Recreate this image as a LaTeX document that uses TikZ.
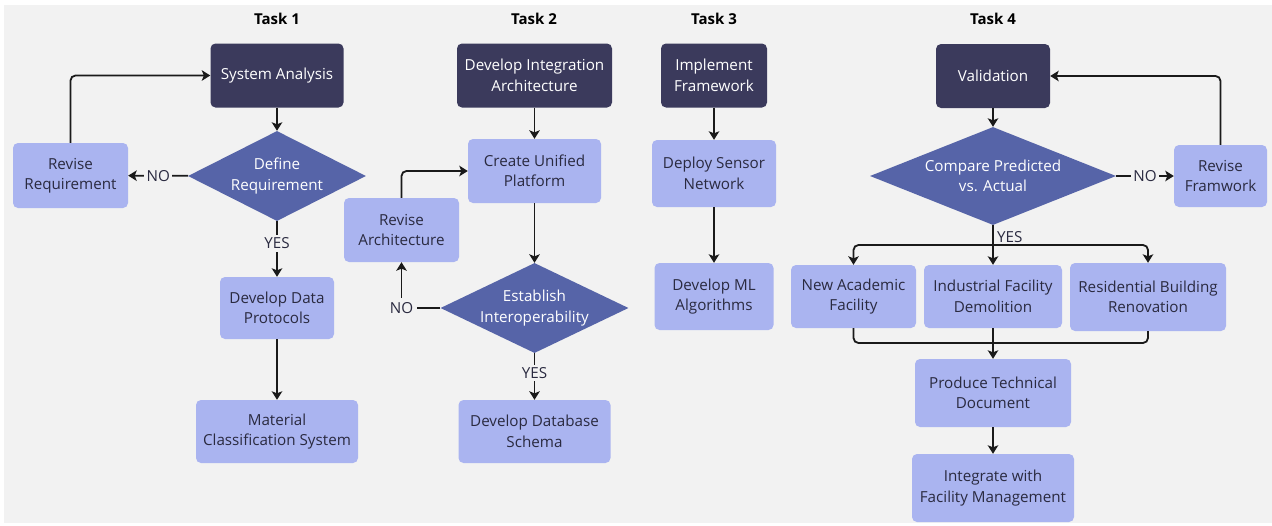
\documentclass[tikz,border=0pt]{standalone}
\usepackage{fontspec}
\setmainfont{Open Sans}
\usetikzlibrary{shapes.geometric,arrows.meta}
\definecolor{bgc}{HTML}{F2F2F2}
\definecolor{darkc}{HTML}{3B3A5C}
\definecolor{diac}{HTML}{5664A8}
\definecolor{lightc}{HTML}{AAB4F0}
\definecolor{textc}{HTML}{2A2A40}
\definecolor{linec}{HTML}{1A1A1A}
\begin{document}
\begin{tikzpicture}[x=1pt,y=-1pt,
  font=\fontsize{15.2}{20.5}\selectfont,
  darkbox/.style={rectangle, rounded corners=5pt, fill=darkc, text=white, align=center, inner sep=0pt},
  lightbox/.style={rectangle, rounded corners=5pt, fill=lightc, text=textc, align=center, inner sep=0pt},
  decision/.style={diamond, aspect=2, fill=diac, text=white, align=center, inner sep=0pt},
  line/.style={line width=1.8pt, draw=linec},
  arr/.style={line, -{Stealth[length=8.5pt,width=10.5pt,inset=2pt]}},
  lbl/.style={fill=bgc, text=textc, inner sep=2.5pt},
  title/.style={font=\fontsize{15}{18}\selectfont\bfseries, text=black}]
\useasboundingbox (0,0) rectangle (1272,525);
\fill[white] (0,0) rectangle (1272,525);
\fill[bgc] (4,5) rectangle (1272,523);

% titles
\node[title] (t1) at (277,19) {Task 1};
\node[title] (t2) at (534,19) {Task 2};
\node[title] (t3) at (714,19) {Task 3};
\node[title] (t4) at (993,19) {Task 4};

% Task 1
\node[darkbox, minimum width=133, minimum height=64] (sa) at (277,75.5) {System Analysis};
\node[decision, minimum width=178, minimum height=90] (dr) at (277,176) {Define\\Requirement};
\node[lightbox, minimum width=115, minimum height=65] (rr) at (70.5,175.5) {Revise\\Requirement};
\node[lightbox, minimum width=114, minimum height=62] (ddp) at (277,308) {Develop Data\\Protocols};
\node[lightbox, minimum width=162, minimum height=63] (mcs) at (277,431.5) {Material\\Classification System};

% Task 2
\node[darkbox, minimum width=155, minimum height=64] (dia) at (534.5,75.5) {Develop Integration\\Architecture};
\node[lightbox, minimum width=133, minimum height=64] (cup) at (534.5,171) {Create Unified\\Platform};
\node[decision, aspect=2.2, minimum width=188, minimum height=90] (ei) at (534.5,308) {Establish\\Interoperability};
\node[lightbox, minimum width=115, minimum height=64] (ra) at (401.5,230) {Revise\\Architecture};
\node[lightbox, minimum width=152, minimum height=63] (dds) at (534.5,431.5) {Develop Database\\Schema};

% Task 3
\node[darkbox, minimum width=106, minimum height=64] (imf) at (714,75.5) {Implement\\Framework};
\node[lightbox, minimum width=124, minimum height=67] (dsn) at (714,173.5) {Deploy Sensor\\Network};
\node[lightbox, minimum width=119, minimum height=67] (dml) at (714,296.5) {Develop ML\\Algorithms};

% Task 4
\node[darkbox, minimum width=114, minimum height=64] (val) at (993,76) {Validation};
\node[decision, aspect=2.6, minimum width=246, minimum height=98] (cmp) at (993,176) {Compare Predicted\\vs. Actual};
\node[lightbox, minimum width=93, minimum height=62] (rf) at (1220.5,176) {Revise\\Framwork};
\node[lightbox, minimum width=125, minimum height=63] (naf) at (853.5,296.5) {New Academic\\Facility};
\node[lightbox, minimum width=138, minimum height=63] (ifd) at (993,296.5) {Industrial Facility\\Demolition};
\node[lightbox, minimum width=156, minimum height=68] (rbr) at (1148,297) {Residential Building\\Renovation};
\node[lightbox, minimum width=156, minimum height=68] (ptd) at (993,393) {Produce Technical\\Document};
\node[lightbox, minimum width=162, minimum height=68] (ifm) at (993,488) {Integrate with\\Facility Management};

% Task 1 connectors
\draw[arr] (sa) -- (dr);
\draw[arr] (dr) -- node[lbl]{NO} (rr);
\draw[arr, rounded corners=5pt] (rr.north) |- (sa.west);
\draw[arr] (dr) -- node[lbl, pos=0.4]{YES} (ddp);
\draw[arr] (ddp) -- (mcs);

% Task 2 connectors
\draw[arr] (dia) -- (cup);
\draw[arr] (cup) -- (ei);
\draw[arr] (ei.west) -| node[lbl, pos=0.5, inner sep=4pt]{NO} (ra.south);
\draw[arr, rounded corners=5pt] (ra.north) |- (cup.west);
\draw[arr] (ei) -- node[lbl, pos=0.42]{YES} (dds);

% Task 3 connectors
\draw[arr] (imf) -- (dsn);
\draw[arr] (dsn) -- (dml);

% Task 4 connectors
\draw[arr] (val) -- (cmp);
\draw[arr] (cmp) -- node[lbl]{NO} (rf);
\draw[arr, rounded corners=5pt] (rf.north) |- (val.east);
\coordinate (br) at (993,245);
\draw[line] (cmp.south) -- (br);
\draw[arr, rounded corners=5pt] (br) -| (naf.north);
\draw[arr] (br) -- (ifd.north);
\draw[arr, rounded corners=5pt] (br) -| (rbr.north);
\node[anchor=west, text=textc, inner sep=1pt] (yes4) at (996,237) {YES};
\coordinate (mg) at (993,343);
\draw[line, rounded corners=5pt] (naf.south) |- (mg) -| (rbr.south);
\draw[arr] (ifd.south) -- (ptd.north);
\draw[arr] (ptd) -- (ifm);
\end{tikzpicture}
\end{document}
